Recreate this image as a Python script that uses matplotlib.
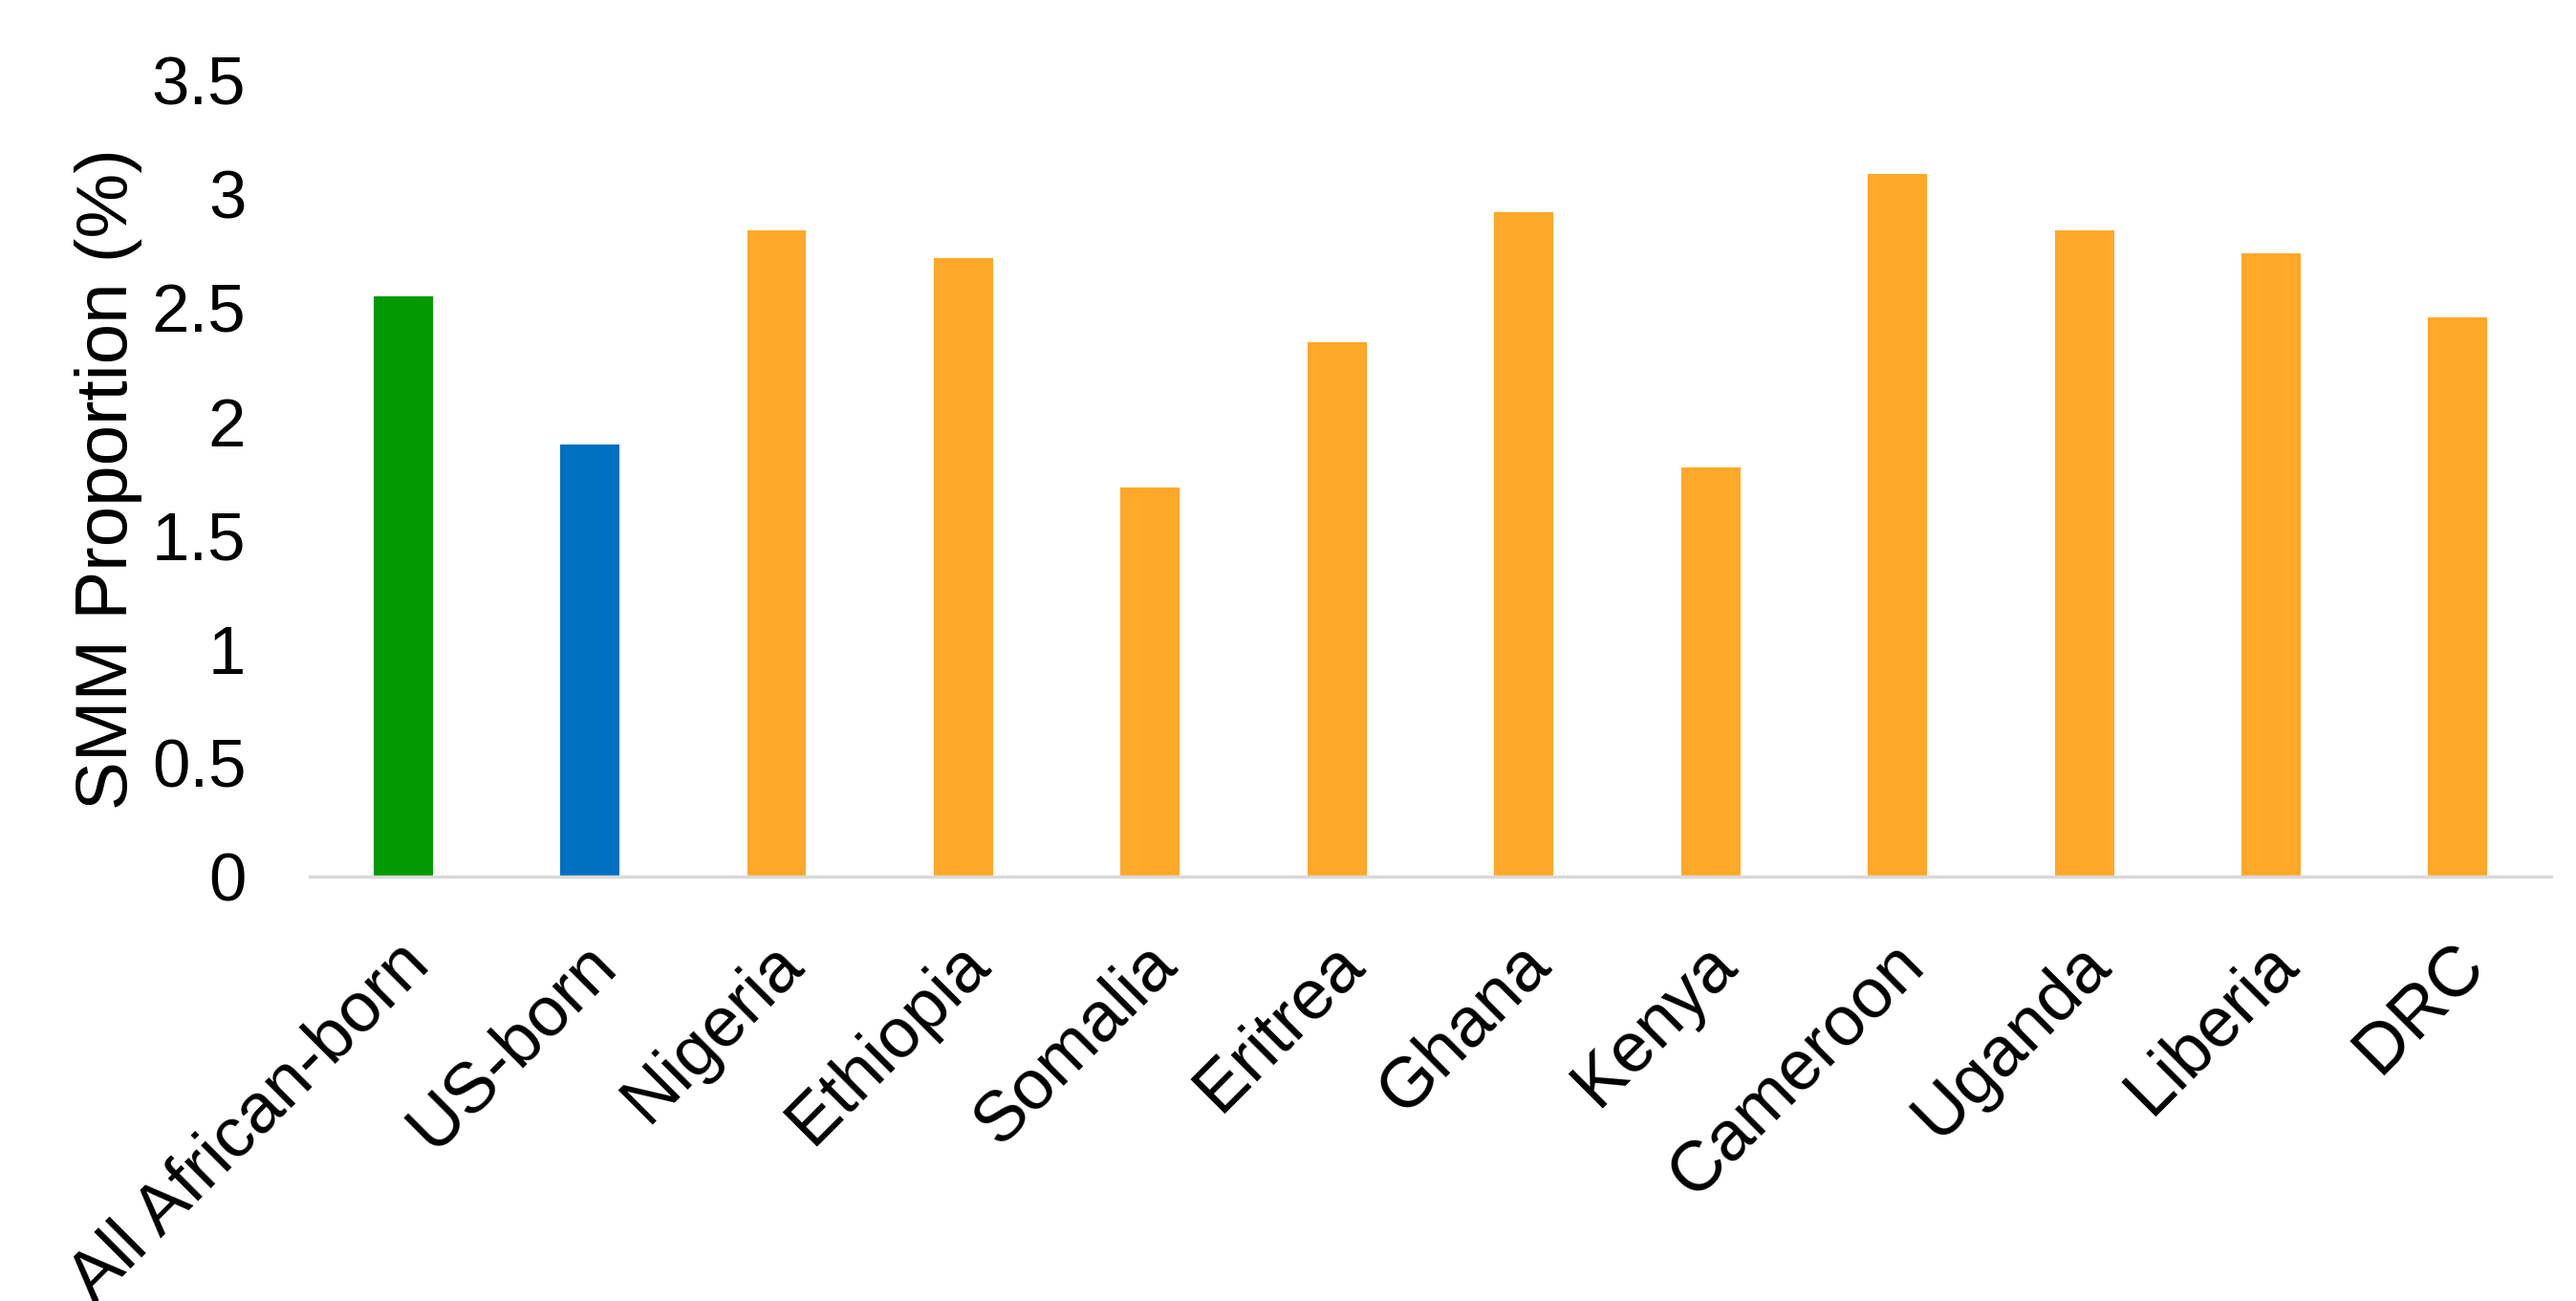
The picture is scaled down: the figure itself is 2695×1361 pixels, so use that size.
import matplotlib
matplotlib.use("Agg")
import matplotlib.pyplot as plt
import matplotlib.transforms as mtrans
import numpy as np

plt.rcParams['font.family'] = ['Liberation Sans', 'DejaVu Sans']

categories = ["All African-born", "US-born", "Nigeria", "Ethiopia", "Somalia", "Eritrea",
              "Ghana", "Kenya", "Cameroon", "Uganda", "Liberia", "DRC"]
values = [2.55, 1.90, 2.84, 2.72, 1.71, 2.35, 2.92, 1.80, 3.09, 2.84, 2.74, 2.46]
colors = ["#009900", "#0070C0"] + ["#FFA829"] * 10

fig = plt.figure(figsize=(26.95, 13.61), dpi=100)
ax = fig.add_axes([0.1202, 0.326, 0.8702, 0.612])

x = np.arange(len(categories))
ax.bar(x, values, width=0.317, color=colors, zorder=2)

ax.set_xlim(-0.5, len(categories) - 0.5)
ax.set_ylim(0, 3.5)
ax.set_yticks(np.arange(0, 3.51, 0.5))
ax.set_yticklabels(["0", "0.5", "1", "1.5", "2", "2.5", "3", "3.5"])
ax.tick_params(axis='y', length=0, pad=48, labelsize=51)
ax.tick_params(axis='x', length=0, pad=40, labelsize=53)

ax.set_xticks(x)
ax.set_xticklabels(categories, rotation=45, ha='right', va='center', rotation_mode='anchor')
offset = mtrans.ScaledTranslation(0.16, -0.25, fig.dpi_scale_trans)
for lbl in ax.get_xticklabels():
    lbl.set_transform(lbl.get_transform() + offset)

ax.set_ylabel("SMM Proportion (%)", fontsize=55)
ax.yaxis.set_label_coords(-0.0745, 0.5)

for side in ["top", "right", "left"]:
    ax.spines[side].set_visible(False)
ax.spines["bottom"].set_color("#D9D9D9")
ax.spines["bottom"].set_linewidth(2.5)

fig.savefig("out.png", dpi=100, facecolor="white")
